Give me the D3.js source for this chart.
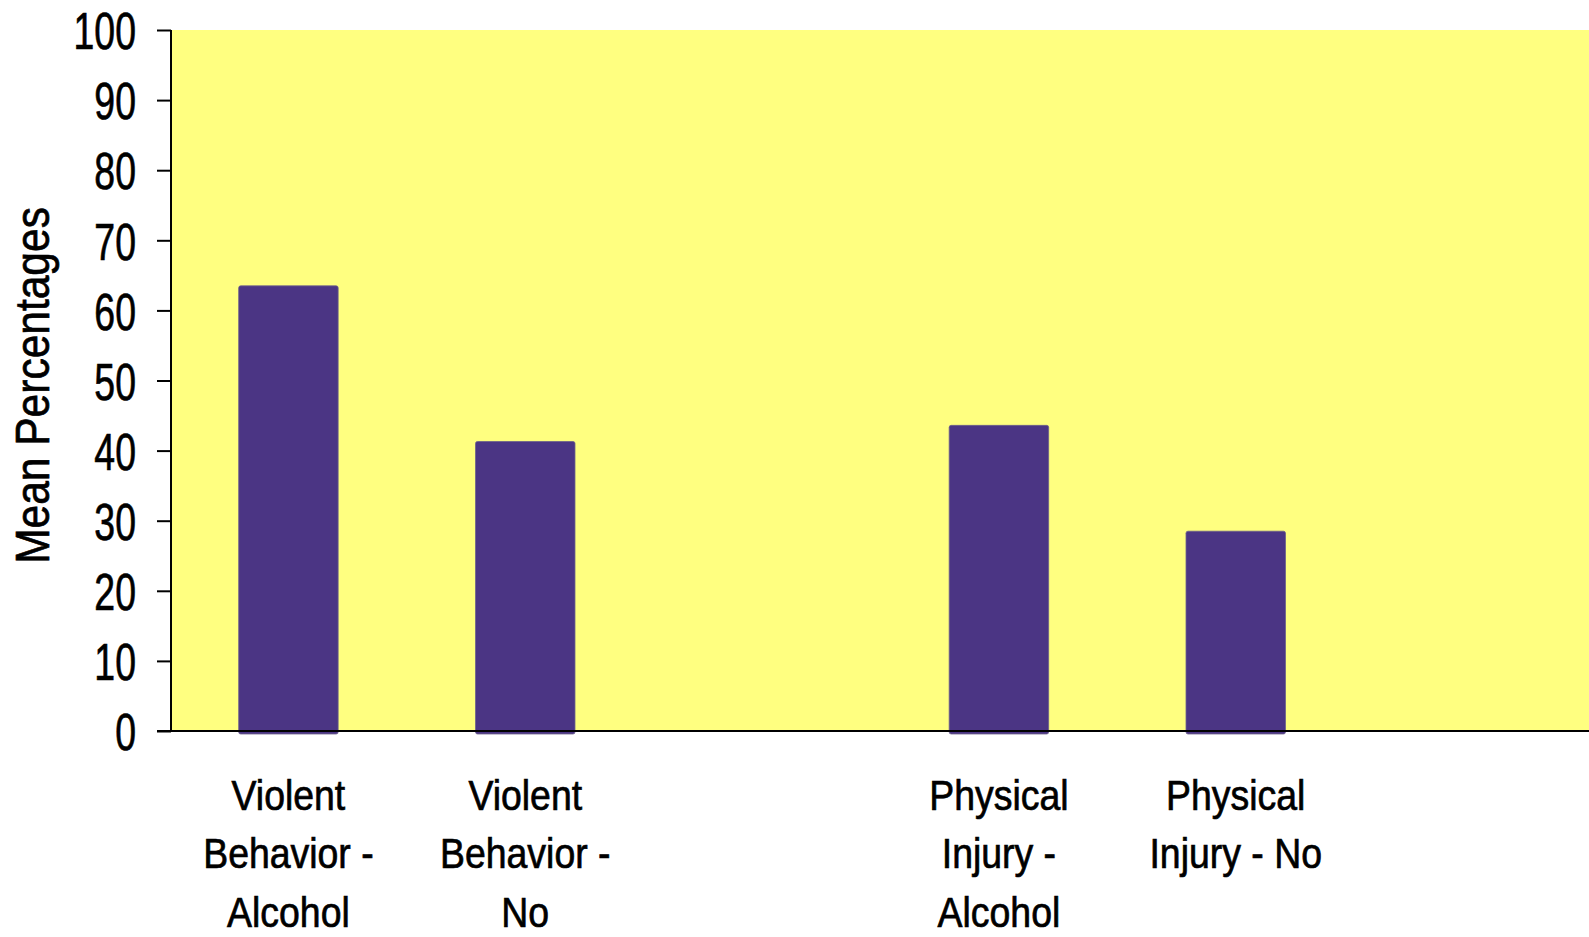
<!DOCTYPE html>
<html>
<head>
<meta charset="utf-8">
<script src="https://cdn.jsdelivr.net/npm/d3@7"></script>
<style>
  html, body { margin: 0; padding: 0; background: #ffffff; }
  svg { display: block; }
  text { font-family: "Liberation Sans", Arial, sans-serif; fill: #000; stroke: #000; stroke-width: 0.7px; }
</style>
</head>
<body>
<div id="chart"></div>
<script>
// chart data
var categories = ["Violent Behavior - Alcohol", "Violent Behavior - No", "Physical Injury - Alcohol", "Physical Injury - No"];
var values = [63.5, 41.3, 43.6, 28.5];
var labelLines = [
  ["Violent", "Behavior -", "Alcohol"],
  ["Violent", "Behavior -", "No"],
  ["Physical", "Injury -", "Alcohol"],
  ["Physical", "Injury - No"]
];
// empty slots keep the gap between the two groups and after the last one
var slots = ["Violent Behavior - Alcohol", "Violent Behavior - No", "gap 1", "Physical Injury - Alcohol", "Physical Injury - No", "gap 2"];
var yTicks = [0, 10, 20, 30, 40, 50, 60, 70, 80, 90, 100];

var svgWidth = 1589;
var svgHeight = 937;

var margin = { top: 30, right: 0, bottom: 206, left: 171 };

var svg = d3.select("#chart")
  .append("svg")
  .attr("width", svgWidth)
  .attr("height", svgHeight);

// scales
var yScale = d3.scaleLinear()
  .domain([0, 100])
  .range([svgHeight - margin.bottom, margin.top]);

var xScale = d3.scaleBand()
  .domain(slots)
  .range([170, 1591])
  .paddingInner(0.58)
  .paddingOuter(0.29);

// yellow plot background
svg.append("rect")
  .attr("x", margin.left)
  .attr("y", yScale(100))
  .attr("width", svgWidth - margin.left)
  .attr("height", yScale(0) - yScale(100))
  .attr("fill", "#ffff80");

// bars
svg.append("g")
  .selectAll("rect")
  .data(categories)
  .enter()
  .append("rect")
  .attr("x", function(d) { return xScale(d); })
  .attr("y", function(d, i) { return yScale(values[i]); })
  .attr("width", xScale.bandwidth())
  .attr("height", function(d, i) { return yScale(0) - yScale(values[i]) + 3; })
  .attr("rx", 2)
  .attr("fill", "#4b3584")
  .attr("stroke", "#6c5f8c")
  .attr("stroke-width", 0.8);

// y axis
var leftAxis = d3.axisLeft(yScale)
  .tickValues(yTicks)
  .tickSize(14)
  .tickPadding(21)
  .tickFormat(d3.format("d"));

var yAxis = svg.append("g")
  .attr("transform", "translate(" + margin.left + ",0)")
  .call(leftAxis);

yAxis.select(".domain")
  .attr("stroke", "#000")
  .attr("stroke-width", 2)
  .attr("d", "M0," + yScale(100) + "V" + yScale(0));

yAxis.selectAll(".tick line")
  .attr("stroke", "#000")
  .attr("stroke-width", 2);

// narrow digits: squeeze the regular face horizontally
yAxis.selectAll(".tick text")
  .style("font-size", "52px")
  .attr("fill", "#000")
  .attr("x", 0)
  .attr("dy", "0.36em")
  .attr("transform", "translate(-35,0) scale(0.72,1)");

// bottom line
svg.append("line")
  .attr("x1", margin.left - 14)
  .attr("x2", svgWidth)
  .attr("y1", yScale(0))
  .attr("y2", yScale(0))
  .attr("stroke", "#000")
  .attr("stroke-width", 2);

// category labels
var labelGroup = svg.append("g");
categories.forEach(function(c, i) {
  var cx = xScale(c) + xScale.bandwidth() / 2;
  var t = labelGroup.append("text")
    .attr("transform", "translate(" + cx + ",810) scale(0.87,1)")
    .attr("text-anchor", "middle")
    .style("font-size", "43px");
  labelLines[i].forEach(function(line, j) {
    t.append("tspan")
      .attr("x", 0)
      .attr("dy", j === 0 ? 0 : 58.5)
      .text(line);
  });
});

// y axis title
svg.append("text")
  .attr("transform", "translate(49," + ((yScale(0) + yScale(100)) / 2 + 5) + ") rotate(-90) scale(0.895,1)")
  .attr("text-anchor", "middle")
  .style("font-size", "47.5px")
  .text("Mean Percentages");
</script>
</body>
</html>
